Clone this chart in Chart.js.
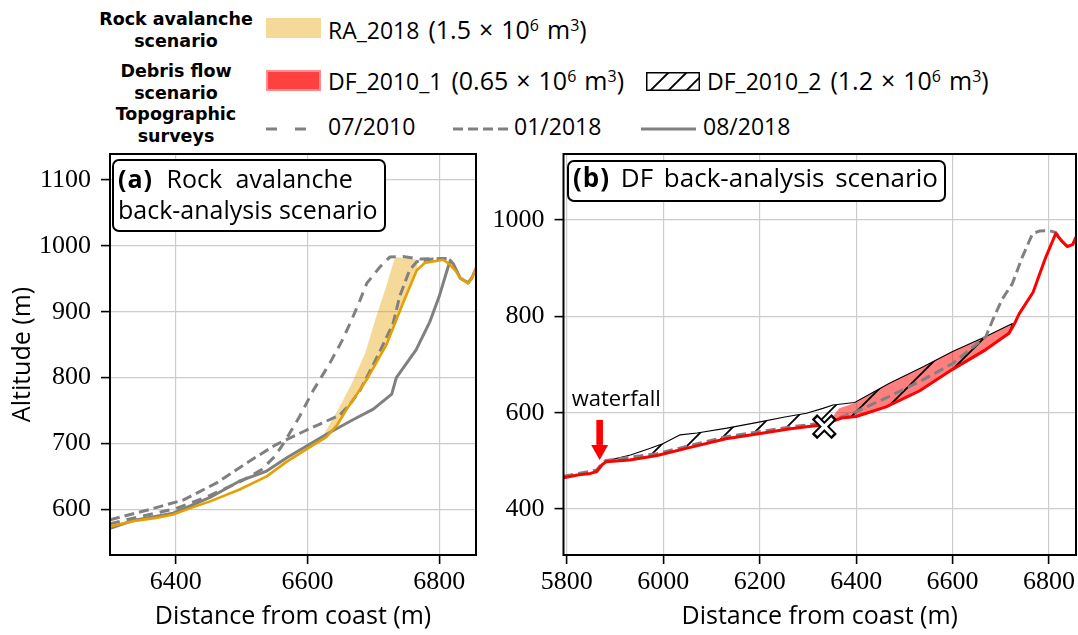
<!DOCTYPE html>
<html><head><meta charset="utf-8">
<script src="https://cdn.jsdelivr.net/npm/chart.js@4.4.1/dist/chart.umd.min.js"></script>
<style>
html,body{margin:0;padding:0;background:#fff;}
#wrap{position:relative;width:1078px;height:635px;overflow:hidden;font-family:"Open Sans",sans-serif;color:#000;}
canvas{position:absolute;}
.hd{position:absolute;left:76px;width:200px;text-align:center;font:bold 17.5px "DejaVu Sans";line-height:22px;}
.lab{position:absolute;font-size:23px;line-height:30px;white-space:nowrap;}
.lab .m{font-size:25px;margin-left:3px;}
.lab sup{font-size:16px;line-height:0;vertical-align:0.5em;}
.op{margin:0 8px;}
.u{margin-left:8px;}
.sw{position:absolute;}
.box{position:absolute;border:2px solid #000;border-radius:7px;background:#fff;line-height:31px;padding:0 6px 0 4px;white-space:nowrap;box-sizing:border-box;}
.box b{letter-spacing:1px;}
.ws{word-spacing:7px;}
</style></head>
<body><div id="wrap">
 <div class="hd" style="top:8px">Rock avalanche<br>scenario</div>
 <div class="hd" style="top:60px">Debris flow<br>scenario</div>
 <div class="hd" style="top:103px">Topographic<br>surveys</div>

 <div class="sw" style="left:266px;top:18px;width:55px;height:20px;background:rgba(230,159,0,.4)"></div>
 <div class="lab" style="left:328px;top:14px">RA_2018 <span class="m">(1.5<span class="op">×</span>10<sup>6</sup><span class="u">m</span><sup>3</sup>)</span></div>

 <div class="sw" style="left:266px;top:70px;width:51px;height:17px;background:#ff4040;border:2px solid #ff8c8c"></div>
 <div class="lab" style="left:328px;top:65px">DF_2010_1 <span class="m">(0.65<span class="op">×</span>10<sup>6</sup><span class="u">m</span><sup>3</sup>)</span></div>
 <svg class="sw" style="left:646px;top:72px" width="54" height="19">
  <defs><clipPath id="hc"><rect x="0" y="0" width="54" height="19"/></clipPath></defs>
  <g clip-path="url(#hc)" stroke="#000" stroke-width="1.8">
   <line x1="4" y1="19" x2="23" y2="0"/><line x1="22" y1="19" x2="41" y2="0"/><line x1="40" y1="19" x2="59" y2="0"/>
  </g>
  <rect x="0.75" y="0.75" width="52.5" height="17.5" fill="none" stroke="#000" stroke-width="1.5"/>
 </svg>
 <div class="lab" style="left:707px;top:65px">DF_2010_2 <span class="m">(1.2<span class="op">×</span>10<sup>6</sup><span class="u">m</span><sup>3</sup>)</span></div>

 <svg class="sw" style="left:266px;top:124px" width="56" height="10"><line x1="0" y1="5" x2="55" y2="5" stroke="#808080" stroke-width="3" stroke-dasharray="11 18"/></svg>
 <div class="lab" style="left:328px;top:111px">07/2010</div>
 <svg class="sw" style="left:453px;top:124px" width="56" height="10"><line x1="0" y1="5" x2="55" y2="5" stroke="#808080" stroke-width="3" stroke-dasharray="10 5"/></svg>
 <div class="lab" style="left:514px;top:111px">01/2018</div>
 <svg class="sw" style="left:641px;top:124px" width="56" height="10"><line x1="0" y1="5" x2="55" y2="5" stroke="#808080" stroke-width="3"/></svg>
 <div class="lab" style="left:703px;top:111px">08/2018</div>

 <canvas id="cA" width="480" height="495" style="left:0;top:140px"></canvas>
 <canvas id="cB" width="598" height="495" style="left:480px;top:140px"></canvas>

 <div class="box" style="left:112px;top:159px;height:73px;padding-top:2px;font-size:25px"><span class="ws"><b>(a)</b> Rock avalanche</span><br>back-analysis scenario</div>
 <div class="box" style="left:567px;top:160px;height:42px;padding-top:0;font-size:26px;word-spacing:4px"><b>(b)</b> DF back-analysis scenario</div>
</div>
<script>
// ---- panel (a): rock avalanche back-analysis, [distance m, altitude m]
const aSurvey2010 = [[6300,578],[6350,590],[6400,601],[6452,621],[6500,643],[6530,660],[6550,680],[6565,702],[6588,741],[6609,781],[6634,822],[6652,855],[6666,885],[6680,918],[6690,943],[6710,968],[6725,983],[6745,984],[6771,980],[6811,981]];
const aSurvey201801 = [[6300,584],[6361,600],[6411,614],[6462,640],[6507,670],[6550,697],[6598,720],[6649,743],[6665,760],[6680,781],[6695,810],[6711,842],[6730,882],[6740,923],[6755,963],[6766,976],[6790,980],[6811,981]];
const aSurvey201808 = [[6300,571],[6335,583],[6396,594],[6452,618],[6497,643],[6538,658],[6568,678],[6600,697],[6629,714],[6669,736],[6700,752],[6728,775],[6735,800],[6765,842],[6786,885],[6800,923],[6813,966],[6817,978],[6822,972],[6832,951],[6844,944],[6850,952],[6856,966]];
const aRA2018 = [[6300,574],[6335,582],[6370,587],[6396,592],[6420,601],[6452,612],[6497,630],[6538,650],[6568,672],[6600,692],[6629,710],[6645,728],[6659,751],[6690,797],[6720,850],[6745,913],[6766,963],[6778,974],[6806,979],[6816,972],[6825,962],[6832,951],[6844,943],[6850,951],[6856,966]];
const aRATop = [[6624,712],[6649,756],[6669,795],[6688,838],[6703,888],[6720,940],[6733,983],[6768,979]];
const aXTicks = [6400,6600,6800];
const aYTicks = [600,700,800,900,1000,1100];

// ---- panel (b): debris flow back-analysis
const bDF = [[5793,465],[5825,471],[5849,474],[5862,478],[5873,492],[5881,498],[5930,502],[5987,511],[6056,528],[6130,546],[6201,557],[6260,566],[6297,571],[6335,575],[6350,582],[6370,589],[6400,592],[6462,612],[6531,645],[6600,690],[6669,731],[6717,765],[6728,784],[6738,805],[6767,850],[6793,922],[6814,972],[6826,957],[6838,945],[6849,949],[6856,964]];
const bSurvey = [[5793,468],[5862,481],[5873,495],[5881,501],[5987,515],[6130,550],[6260,570],[6335,579],[6400,602],[6469,634],[6538,668],[6600,702],[6669,758],[6683,792],[6703,836],[6724,868],[6745,924],[6766,972],[6780,977],[6800,978],[6814,974],[6826,957],[6838,945],[6849,949],[6856,964]];
const bDF2Top = [[5878,499],[5932,512],[5973,526],[6000,536],[6035,554],[6070,558],[6132,568],[6201,581],[6252,591],[6297,599],[6331,609],[6352,616],[6397,621],[6469,661],[6538,695],[6600,727],[6669,758],[6724,785]];
const bDF1Top = [[6340,577],[6365,609],[6400,621],[6469,661],[6538,695],[6600,727],[6669,758],[6724,785]];
const bMark = [[6334,571]];
const bXTicks = [5800,6000,6200,6400,6600,6800];
const bYTicks = [400,600,800,1000];
const wfArrow = [5868,585,502];   // x, from y, to y
const wfLabel = [5810,614];

const SERIF='"Liberation Serif", serif', SANS='"Open Sans", sans-serif';
const GREY='#808080', GRID='#cccccc';
const pts = a => a.map(p=>({x:p[0],y:p[1]}));
// closed outline: upper edge then the base line back between the same x bounds
function polygon(top, base){
  const x0=top[0][0], x1=top[top.length-1][0];
  return pts(top.concat(base.filter(p=>p[0]>x0&&p[0]<x1).reverse()));
}

const frame={id:'frame',afterDatasetsDraw(c){
  const a=c.chartArea,g=c.ctx; g.save(); g.strokeStyle='#000'; g.lineWidth=2;
  g.strokeRect(a.left,a.top,a.right-a.left,a.bottom-a.top); g.restore();
}};

function axes(xmin,xmax,ymin,ymax,xt,yt,yw,ytitle){
  const grid={color:GRID,lineWidth:1.2,drawTicks:true,tickLength:9,tickColor:'#000',tickWidth:1.6};
  return {
    x:{type:'linear',min:xmin,max:xmax,border:{display:false},grid,
      afterBuildTicks:s=>{s.ticks=xt.map(v=>({value:v}));},
      afterFit:s=>{s.height=80;s.paddingLeft=0;s.paddingRight=0;},
      ticks:{color:'#000',padding:5,maxRotation:0,autoSkip:false,font:{family:SERIF,size:26,lineHeight:1},callback:v=>String(v)},
      title:{display:true,text:'Distance from coast (m)',color:'#000',font:{family:SANS,size:25,lineHeight:1},padding:{top:0,bottom:6}}},
    y:{type:'linear',min:ymin,max:ymax,border:{display:false},grid,
      afterBuildTicks:s=>{s.ticks=yt.map(v=>({value:v}));},
      afterFit:s=>{s.width=yw;s.paddingTop=0;s.paddingBottom=0;},
      ticks:{color:'#000',padding:10,autoSkip:false,font:{family:SERIF,size:26,lineHeight:1},callback:v=>String(v)},
      title:{display:!!ytitle,text:ytitle||'',color:'#000',font:{family:SANS,size:25,lineHeight:1},padding:{top:10,bottom:0}}}
  };
}
const common={responsive:false,animation:false,events:[],
  plugins:{legend:{display:false},tooltip:{enabled:false}},
  elements:{point:{radius:0},line:{tension:0,borderCapStyle:'butt',borderJoinStyle:'round'}}};

const line=(data,color,w,dash,order)=>({data:pts(data),showLine:true,borderColor:color,borderWidth:w,borderDash:dash||[],pointRadius:0,fill:false,order});

new Chart(document.getElementById('cA'),{type:'scatter',
  data:{datasets:[
    {data:polygon(aRATop,aRA2018),showLine:true,fill:'shape',backgroundColor:'rgba(230,159,0,0.4)',borderWidth:0,pointRadius:0,order:9},
    line(aSurvey2010,GREY,3,[10,7],6),
    line(aSurvey201801,GREY,3,[10,5],5),
    line(aSurvey201808,GREY,3,null,4),
    line(aRA2018,'#e69f00',2.6,null,2)
  ]},
  options:Object.assign({},common,{layout:{autoPadding:false,padding:{top:14,right:4,left:0,bottom:0}},
    scales:axes(6300,6856,530.6,1139.5,aXTicks,aYTicks,110,'Altitude (m)')}),
  plugins:[frame]});

// hatch for DF_2010_2
const cB=document.getElementById('cB'), gB=cB.getContext('2d');
const tile=document.createElement('canvas'); const T=27; tile.width=tile.height=T;
(function(){const g=tile.getContext('2d');g.strokeStyle='#000';g.lineWidth=1.8;g.beginPath();
  g.moveTo(-3,T+3);g.lineTo(T+3,-3);g.moveTo(-3,3);g.lineTo(3,-3);g.moveTo(T-3,T+3);g.lineTo(T+3,T-3);g.stroke();})();
const hatch=gB.createPattern(tile,'repeat');

const waterfall={id:'waterfall',afterDatasetsDraw(c){
  const g=c.ctx,sx=c.scales.x,sy=c.scales.y;
  const x=sx.getPixelForValue(wfArrow[0]),y0=sy.getPixelForValue(wfArrow[1]),y1=sy.getPixelForValue(wfArrow[2]);
  g.save();g.fillStyle='#ff0000';
  g.fillRect(x-3.3,y0,6.6,y1-15-y0);
  g.beginPath();g.moveTo(x-8.5,y1-15);g.lineTo(x+8.5,y1-15);g.lineTo(x,y1);g.closePath();g.fill();
  g.fillStyle='#000';g.font='22px '+SANS;g.textBaseline='alphabetic';g.textAlign='left';
  g.fillText('waterfall',sx.getPixelForValue(wfLabel[0]),sy.getPixelForValue(wfLabel[1]));
  g.restore();
}};

new Chart(cB,{type:'scatter',
  data:{datasets:[
    {data:polygon(bDF1Top,bDF),showLine:true,fill:'shape',backgroundColor:'rgba(255,0,0,0.5)',borderWidth:0,pointRadius:0,order:9},
    {data:polygon(bDF2Top,bDF),showLine:true,fill:'shape',backgroundColor:hatch,borderColor:'#000',borderWidth:1.1,pointRadius:0,order:8},
    line(bSurvey,GREY,3,[10,5],5),
    line(bDF,'#ff0000',3,null,3),
    {data:pts(bMark),showLine:false,pointStyle:'crossRot',pointRadius:14,pointBorderWidth:7.5,pointBorderColor:'#000',pointBackgroundColor:'#000',order:2},
    {data:pts(bMark),showLine:false,pointStyle:'crossRot',pointRadius:11.5,pointBorderWidth:3.6,pointBorderColor:'#fff',pointBackgroundColor:'#fff',order:1}
  ]},
  options:Object.assign({},common,{layout:{autoPadding:false,padding:{top:14,right:2,left:0,bottom:0}},
    scales:axes(5793,6856,304.6,1137,bXTicks,bYTicks,83.5,null)}),
  plugins:[frame,waterfall]});
</script>
</body></html>
